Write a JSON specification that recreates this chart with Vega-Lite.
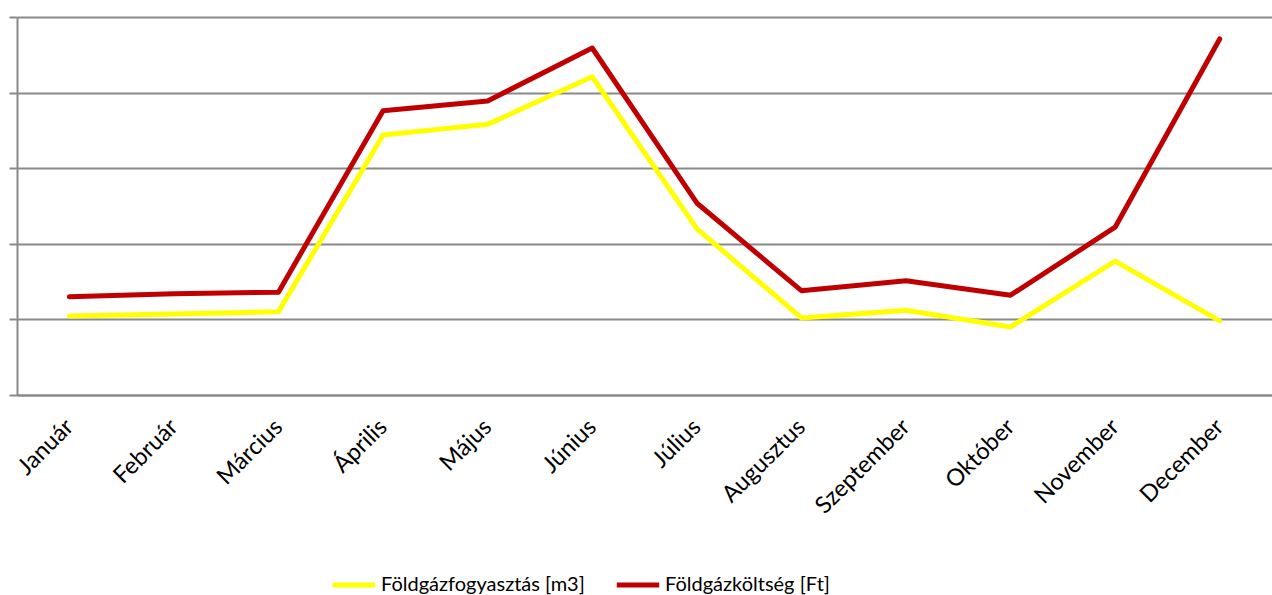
{
  "$schema": "https://vega.github.io/schema/vega-lite/v6.json",
  "autosize": "none",
  "width": 1255,
  "height": 378,
  "padding": {"left": 17, "top": 17, "right": 0, "bottom": 200},
  "background": "white",
  "config": {"view": {"stroke": null}, "font": "Lato"},
  "data": {"values": [
    {"month": "Január", "series": "Földgázfogyasztás [m3]", "value": 1.045},
    {"month": "Február", "series": "Földgázfogyasztás [m3]", "value": 1.07},
    {"month": "Március", "series": "Földgázfogyasztás [m3]", "value": 1.10},
    {"month": "Április", "series": "Földgázfogyasztás [m3]", "value": 3.44},
    {"month": "Május", "series": "Földgázfogyasztás [m3]", "value": 3.58},
    {"month": "Június", "series": "Földgázfogyasztás [m3]", "value": 4.21},
    {"month": "Július", "series": "Földgázfogyasztás [m3]", "value": 2.20},
    {"month": "Augusztus", "series": "Földgázfogyasztás [m3]", "value": 1.02},
    {"month": "Szeptember", "series": "Földgázfogyasztás [m3]", "value": 1.12},
    {"month": "Október", "series": "Földgázfogyasztás [m3]", "value": 0.90},
    {"month": "November", "series": "Földgázfogyasztás [m3]", "value": 1.77},
    {"month": "December", "series": "Földgázfogyasztás [m3]", "value": 0.98},
    {"month": "Január", "series": "Földgázköltség [Ft]", "value": 1.30},
    {"month": "Február", "series": "Földgázköltség [Ft]", "value": 1.34},
    {"month": "Március", "series": "Földgázköltség [Ft]", "value": 1.36},
    {"month": "Április", "series": "Földgázköltség [Ft]", "value": 3.76},
    {"month": "Május", "series": "Földgázköltség [Ft]", "value": 3.89},
    {"month": "Június", "series": "Földgázköltség [Ft]", "value": 4.59},
    {"month": "Július", "series": "Földgázköltség [Ft]", "value": 2.54},
    {"month": "Augusztus", "series": "Földgázköltség [Ft]", "value": 1.38},
    {"month": "Szeptember", "series": "Földgázköltség [Ft]", "value": 1.51},
    {"month": "Október", "series": "Földgázköltség [Ft]", "value": 1.32},
    {"month": "November", "series": "Földgázköltség [Ft]", "value": 2.22},
    {"month": "December", "series": "Földgázköltség [Ft]", "value": 4.71}
  ]},
  "mark": {"type": "line", "strokeWidth": 5, "strokeCap": "round", "strokeJoin": "round"},
  "encoding": {
    "x": {
      "field": "month", "type": "ordinal",
      "sort": ["Január","Február","Március","Április","Május","Június","Július","Augusztus","Szeptember","Október","November","December"],
      "scale": {"type": "point", "padding": 0.5},
      "axis": {"title": null, "labelAngle": -45, "labelAlign": "right", "labelBaseline": "middle", "labelFontSize": 23.5, "labelColor": "#000000", "labelPadding": 28, "labelOverlap": false, "ticks": false, "domainColor": "#898989", "domainWidth": 2, "grid": false}
    },
    "y": {
      "field": "value", "type": "quantitative",
      "scale": {"domain": [0, 5], "nice": false},
      "axis": {"title": null, "labels": false, "labelOverlap": false, "values": [0,1,2,3,4,5], "tickSize": 8, "tickColor": "#898989", "tickWidth": 2, "domainColor": "#898989", "domainWidth": 2, "gridColor": "#898989", "gridWidth": 2, "grid": true}
    },
    "color": {
      "field": "series", "type": "nominal",
      "scale": {"domain": ["Földgázfogyasztás [m3]", "Földgázköltség [Ft]"], "range": ["#FFFF00", "#C00000"]},
      "legend": {"title": null, "orient": "none", "legendX": 313, "legendY": 544, "direction": "horizontal", "symbolType": "stroke", "symbolSize": 1800, "symbolStrokeWidth": 5, "labelFontSize": 20, "labelLimit": 400, "labelColor": "#000000", "columnPadding": 21, "labelOffset": 3}
    }
  }
}
